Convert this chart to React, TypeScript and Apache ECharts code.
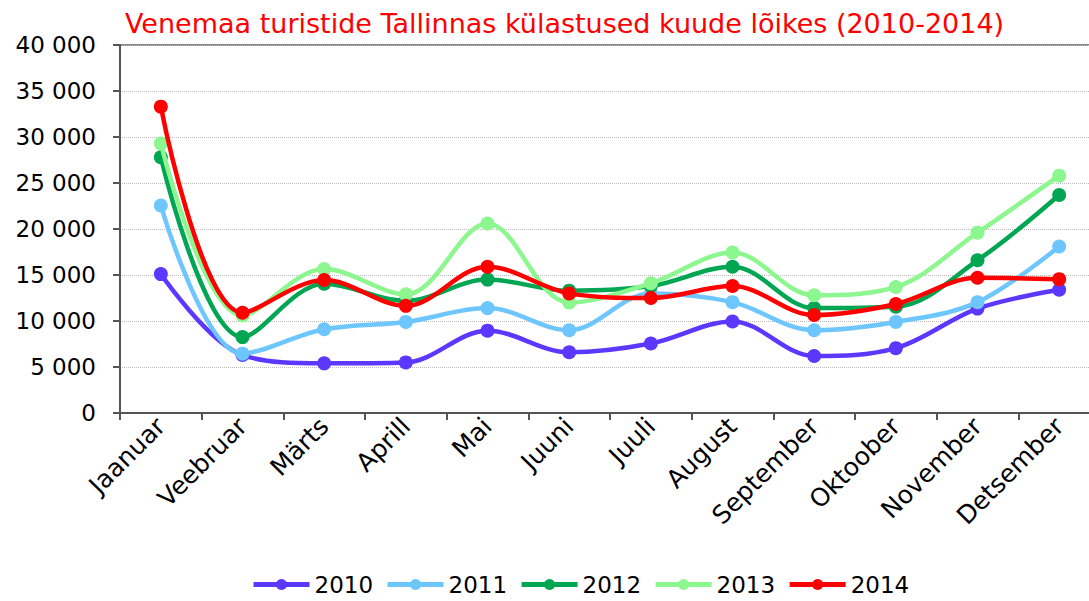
import React, { useEffect, useRef } from "react";
import * as echarts from "echarts";

const title = "Venemaa turistide Tallinnas külastused kuude lõikes (2010-2014)";
const months = ["Jaanuar", "Veebruar", "Märts", "Aprill", "Mai", "Juuni", "Juuli", "August", "September", "Oktoober", "November", "Detsember"];
const years = ["2010", "2011", "2012", "2013", "2014"];
const v2010 = [15100, 6300, 5400, 5500, 8950, 6600, 7550, 9950, 6200, 7050, 11350, 13400];
const v2011 = [22550, 6450, 9100, 9900, 11400, 9000, 13000, 12050, 9000, 9900, 12050, 18100];
const v2012 = [27800, 8250, 14050, 12200, 14500, 13300, 13800, 15900, 11400, 11550, 16600, 23700];
const v2013 = [29300, 10600, 15650, 12900, 20600, 12000, 14100, 17450, 12800, 13700, 19600, 25800];
const v2014 = [33300, 10900, 14450, 11650, 15900, 13000, 12500, 13800, 10650, 11850, 14700, 14550];
const seriesValues = [v2010, v2011, v2012, v2013, v2014];
const colors = ["#5C37FF", "#6EC6FF", "#00A651", "#8CF78E", "#FF0000"];

const FONT = "DejaVu Sans";

export default function App() {
  const ref = useRef<HTMLDivElement>(null);
  useEffect(() => {
    if (!ref.current) return;
    const chart = echarts.init(ref.current, undefined, { renderer: "svg" });
    chart.setOption({
      animation: false,
      backgroundColor: "#ffffff",
      color: colors,
      title: {
        text: title,
        left: 120,
        top: 5,
        textStyle: { color: "#FF0000", fontSize: 27, fontWeight: "normal", fontFamily: FONT },
      },
      legend: {
        bottom: 0,
        left: 246,
        itemWidth: 56,
        itemHeight: 14,
        itemGap: 12,
        lineStyle: { width: 5 },
        textStyle: { fontSize: 23, color: "#000", fontFamily: FONT },
        data: years,
      },
      grid: {
        left: 120,
        top: 45,
        bottom: 188,
        right: 0,
        show: true,
        borderColor: "#888",
        borderWidth: 2,
        containLabel: false,
      },
      xAxis: {
        type: "category",
        data: months,
        boundaryGap: true,
        axisLine: { lineStyle: { color: "#555", width: 2 } },
        axisTick: { show: true, length: 7, lineStyle: { color: "#555", width: 2 }, interval: 0 },
        axisLabel: {
          rotate: 45,
          interval: 0,
          fontSize: 25,
          color: "#000",
          fontFamily: FONT,
          margin: 9,
        },
        splitLine: { show: false },
      },
      yAxis: {
        type: "value",
        min: 0,
        max: 40000,
        interval: 5000,
        axisLine: { show: true, lineStyle: { color: "#555", width: 2 } },
        axisTick: { show: true, length: 7, lineStyle: { color: "#555", width: 2 } },
        axisLabel: {
          fontSize: 23,
          color: "#000",
          fontFamily: FONT,
          margin: 24,
          formatter: (v: number) => {
            if (v === 0) return "0";
            const th = Math.floor(v / 1000);
            const rest = v % 1000;
            return th + " " + String(rest).padStart(3, "0");
          },
        },
        splitLine: { show: true, lineStyle: { color: "#bbb", type: "dotted", width: 1 } },
      },
      series: years.map((y, i) => ({
        name: y,
        type: "line",
        data: seriesValues[i],
        smooth: 0.35,
        symbol: "circle",
        symbolSize: 14,
        lineStyle: { width: 4.5, color: colors[i] },
        itemStyle: { color: colors[i] },
        z: 2 + i,
      })),
    });
    return () => chart.dispose();
  }, []);
  return (
    <div style={{ position: "fixed", left: 0, top: 0, width: 1089, height: 601, overflow: "hidden" }}>
      <div ref={ref} style={{ width: 1100, height: 601 }} />
    </div>
  );
}
